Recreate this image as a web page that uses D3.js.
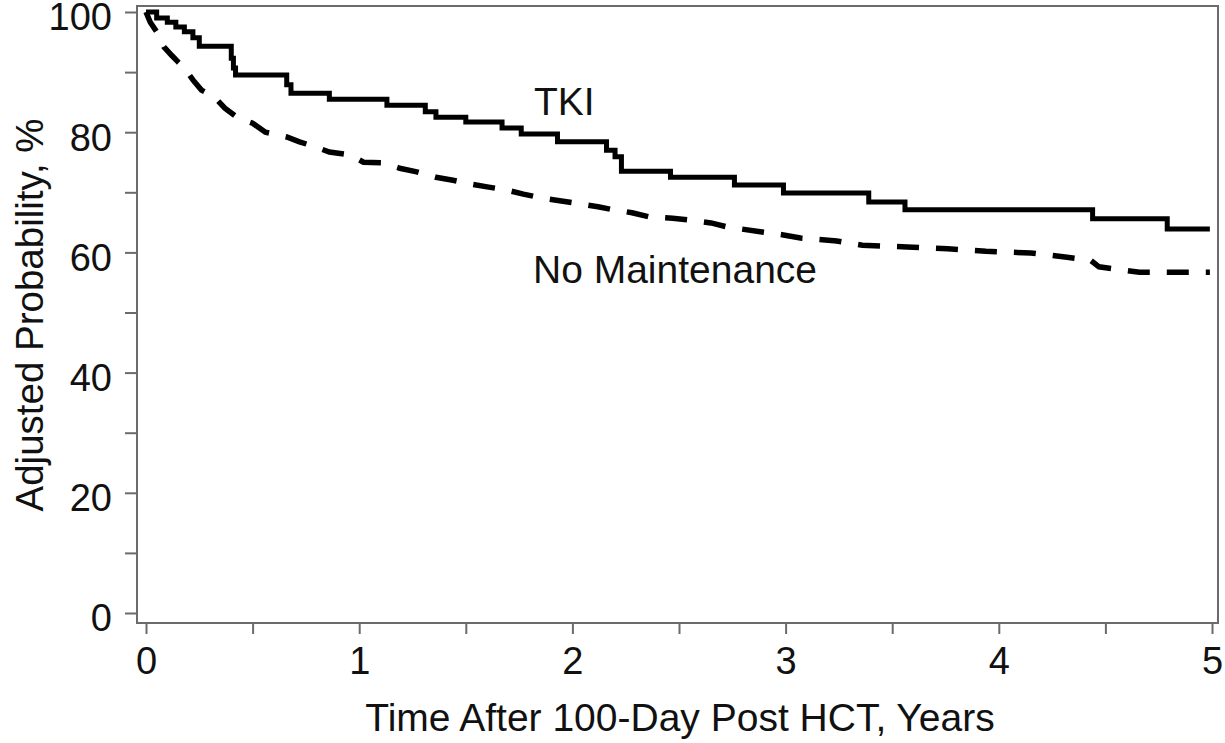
<!DOCTYPE html>
<html>
<head>
<meta charset="utf-8">
<script src="https://cdn.jsdelivr.net/npm/d3@7"></script>
<style>
  html, body { margin: 0; padding: 0; background: #fff; }
  svg { display: block; }
  text { font-family: "Liberation Sans", Arial, sans-serif; fill: #111; }
</style>
</head>
<body>
<svg id="chart" width="1225" height="743"></svg>
<script>
// Time (years) of each step and the value (%) after it
const tkiTime  = [0, 0.05, 0.10, 0.14, 0.18, 0.22, 0.25, 0.40, 0.41, 0.42, 0.66, 0.68, 0.86, 1.13, 1.31, 1.36, 1.50, 1.67, 1.76, 1.93, 2.16, 2.20, 2.23, 2.46, 2.76, 2.99, 3.39, 3.56, 4.44, 4.79, 4.99];
const tkiValue = [100, 99, 98.3, 97.5, 96.7, 95.7, 94.3, 92.3, 90.7, 89.5, 87.9, 86.5, 85.5, 84.5, 83.4, 82.5, 81.7, 80.7, 79.7, 78.4, 77.0, 75.9, 73.5, 72.5, 71.2, 69.9, 68.4, 67.1, 65.6, 63.9, 63.9];

const noTime  = [0, 0.02, 0.05, 0.084, 0.12, 0.15, 0.18, 0.22, 0.26, 0.32, 0.37, 0.43, 0.50, 0.56, 0.66, 0.72, 0.80, 0.86, 0.96, 1.02, 1.11, 1.19, 1.27, 1.36, 1.44, 1.52, 1.60, 1.69, 1.77, 1.85, 1.94, 2.03, 2.12, 2.19, 2.28, 2.36, 2.47, 2.55, 2.65, 2.73, 2.89, 2.99, 3.07, 3.24, 3.36, 3.57, 3.76, 3.94, 4.15, 4.32, 4.43, 4.47, 4.66, 4.99];
const noValue = [100, 98.3, 96.7, 94.2, 92.8, 91.7, 90.7, 88.7, 87.0, 85.9, 84.0, 82.4, 81.5, 80.0, 79.2, 78.4, 77.5, 76.7, 76.2, 75.0, 74.9, 74.0, 73.4, 72.5, 72.0, 71.4, 70.9, 70.4, 69.7, 69.1, 68.6, 68.1, 67.6, 67.1, 66.6, 65.9, 65.7, 65.4, 64.9, 64.2, 63.4, 62.9, 62.4, 61.9, 61.2, 60.9, 60.6, 60.2, 59.9, 59.2, 58.7, 57.6, 56.7, 56.7];

const xTicks = [0, 0.5, 1, 1.5, 2, 2.5, 3, 3.5, 4, 4.5, 5];
const xTickLabels = ["0", "", "1", "", "2", "", "3", "", "4", "", "5"];
const yTicks = [0, 10, 20, 30, 40, 50, 60, 70, 80, 90, 100];
const yTickLabels = ["0", "", "20", "", "40", "", "60", "", "80", "", "100"];

const xTitle = "Time After 100-Day Post HCT, Years";
const yTitle = "Adjusted Probability, %";
const seriesLabels = ["TKI", "No Maintenance"];

const svg = d3.select("#chart");
const x = d3.scaleLinear().domain([0, 5]).range([146, 1212]);
const y = d3.scaleLinear().domain([0, 100]).range([613, 12]);

const frame = {left: 137, top: 6, right: 1218, bottom: 623};
const axisColor = "#6b6b6b";

// frame
svg.append("rect")
  .attr("x", frame.left).attr("y", frame.top)
  .attr("width", frame.right - frame.left).attr("height", frame.bottom - frame.top)
  .attr("fill", "none").attr("stroke", axisColor).attr("stroke-width", 2);

// x axis
const xAxis = d3.axisBottom(x).tickValues(xTicks)
  .tickFormat((d, i) => xTickLabels[i]).tickSize(11).tickPadding(13);
const gx = svg.append("g").attr("transform", `translate(0,${frame.bottom})`).call(xAxis);
gx.select(".domain").remove();
gx.selectAll(".tick line").attr("stroke", axisColor).attr("stroke-width", 2);
gx.selectAll(".tick text").attr("font-size", 38).attr("fill", "#111")
  .style("font-family", '"Liberation Sans", Arial, sans-serif');

// y axis
const yAxis = d3.axisLeft(y).tickValues(yTicks)
  .tickFormat((d, i) => yTickLabels[i]).tickSize(12).tickPadding(13);
const gy = svg.append("g").attr("transform", `translate(${frame.left},0)`).call(yAxis);
gy.select(".domain").remove();
gy.selectAll(".tick line").attr("stroke", axisColor).attr("stroke-width", 2);
gy.selectAll(".tick text").attr("font-size", 38).attr("fill", "#111")
  .attr("dy", "0.47em")
  .style("font-family", '"Liberation Sans", Arial, sans-serif');

// titles
svg.append("text").attr("x", 680).attr("y", 731).attr("text-anchor", "middle")
  .attr("font-size", 39).text(xTitle);
svg.append("text").attr("transform", "translate(29,315) rotate(-90)")
  .attr("text-anchor", "middle").attr("dominant-baseline", "central")
  .attr("font-size", 38.5).text(yTitle);

// curves
const stepLine = d3.line().x(d => x(d[0])).y(d => y(d[1])).curve(d3.curveStepAfter);
const smoothLine = d3.line().x(d => x(d[0])).y(d => y(d[1])).curve(d3.curveLinear);
const tki = tkiTime.map((t, i) => [t, tkiValue[i]]);
const noM = noTime.map((t, i) => [t, noValue[i]]);

svg.append("path").datum(noM).attr("d", smoothLine)
  .attr("fill", "none").attr("stroke", "#000").attr("stroke-width", 5.5)
  .attr("stroke-dasharray", "22,17");
svg.append("path").datum(tki).attr("d", stepLine)
  .attr("fill", "none").attr("stroke", "#000").attr("stroke-width", 5);

// labels
svg.append("text").attr("x", 534).attr("y", 115).attr("font-size", 39).text(seriesLabels[0]);
svg.append("text").attr("x", 533).attr("y", 283).attr("font-size", 39).text(seriesLabels[1]);
</script>
</body>
</html>
